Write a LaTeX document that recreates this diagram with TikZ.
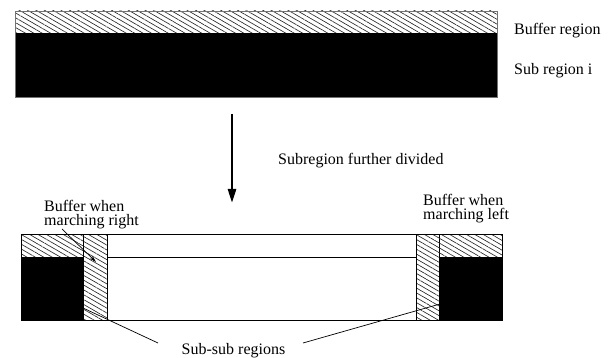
\documentclass[tikz,border=0pt]{standalone}
\usepackage{fontspec}
\setmainfont{Liberation Serif}
\usetikzlibrary{patterns.meta,arrows.meta}
\begin{document}
\begin{tikzpicture}[x=1pt,y=-1pt,
  hatch/.style={pattern={Lines[angle=-30,distance=4.2pt,line width=0.65pt]},pattern color=black!85},
  edge/.style={draw=black,line width=0.8pt},
  lbl/.style={font=\fontsize{16}{14}\selectfont,inner sep=0pt},
  leader/.style={draw=black,line width=0.7pt}]
\useasboundingbox (0,0) rectangle (610,358);
% top region
\path[hatch] (15,11) rectangle (497,33);
\fill[black] (15,33) rectangle (497,97);
\draw[draw=black!55,line width=0.8pt] (15,11) rectangle (497,97);
\node[lbl,anchor=base west] (bufreg) at (514,35) {Buffer region};
\node[lbl,anchor=base west] (subreg) at (514,75) {Sub region i};
% arrow
\coordinate (arrS) at (232,114);
\coordinate (arrE) at (232,203);
\draw[line width=2.5pt,-{Triangle[length=14pt,width=8pt]}] (arrS) -- (arrE);
\node[lbl,anchor=base west] (further) at (278,165) {Subregion further divided};
% bottom region
\path[hatch] (21,234) rectangle (83,257);
\fill[black] (21,257) rectangle (83,320);
\path[hatch,edge] (83,234) rectangle (107,320);
\draw[edge] (107,257) -- (416,257);
\path[hatch,edge] (416,234) rectangle (439,320);
\path[hatch] (439,234) rectangle (502,257);
\fill[black] (439,257) rectangle (502,320);
\draw[edge] (21,234) rectangle (502,320);
% labels
\node[lbl,align=left,anchor=north west] (bright) at (44,200.5) {Buffer when\\marching right};
\node[lbl,align=left,anchor=north west] (bleft) at (423,194.5) {Buffer when\\marching left};
\coordinate (rtail) at (62,229);
\coordinate (rhead) at (96,262);
\draw[leader,-{Stealth[length=7pt,width=4pt]}] (rtail) -- (rhead);
\node[lbl,anchor=base] (subsub) at (233.5,354) {Sub-sub regions};
\coordinate (lA) at (158,343);
\coordinate (lB) at (83,308);
\coordinate (rA) at (303,343);
\coordinate (rB) at (440,304);
\draw[leader] (lA) -- (lB);
\draw[leader] (rA) -- (rB);
\end{tikzpicture}
\end{document}
